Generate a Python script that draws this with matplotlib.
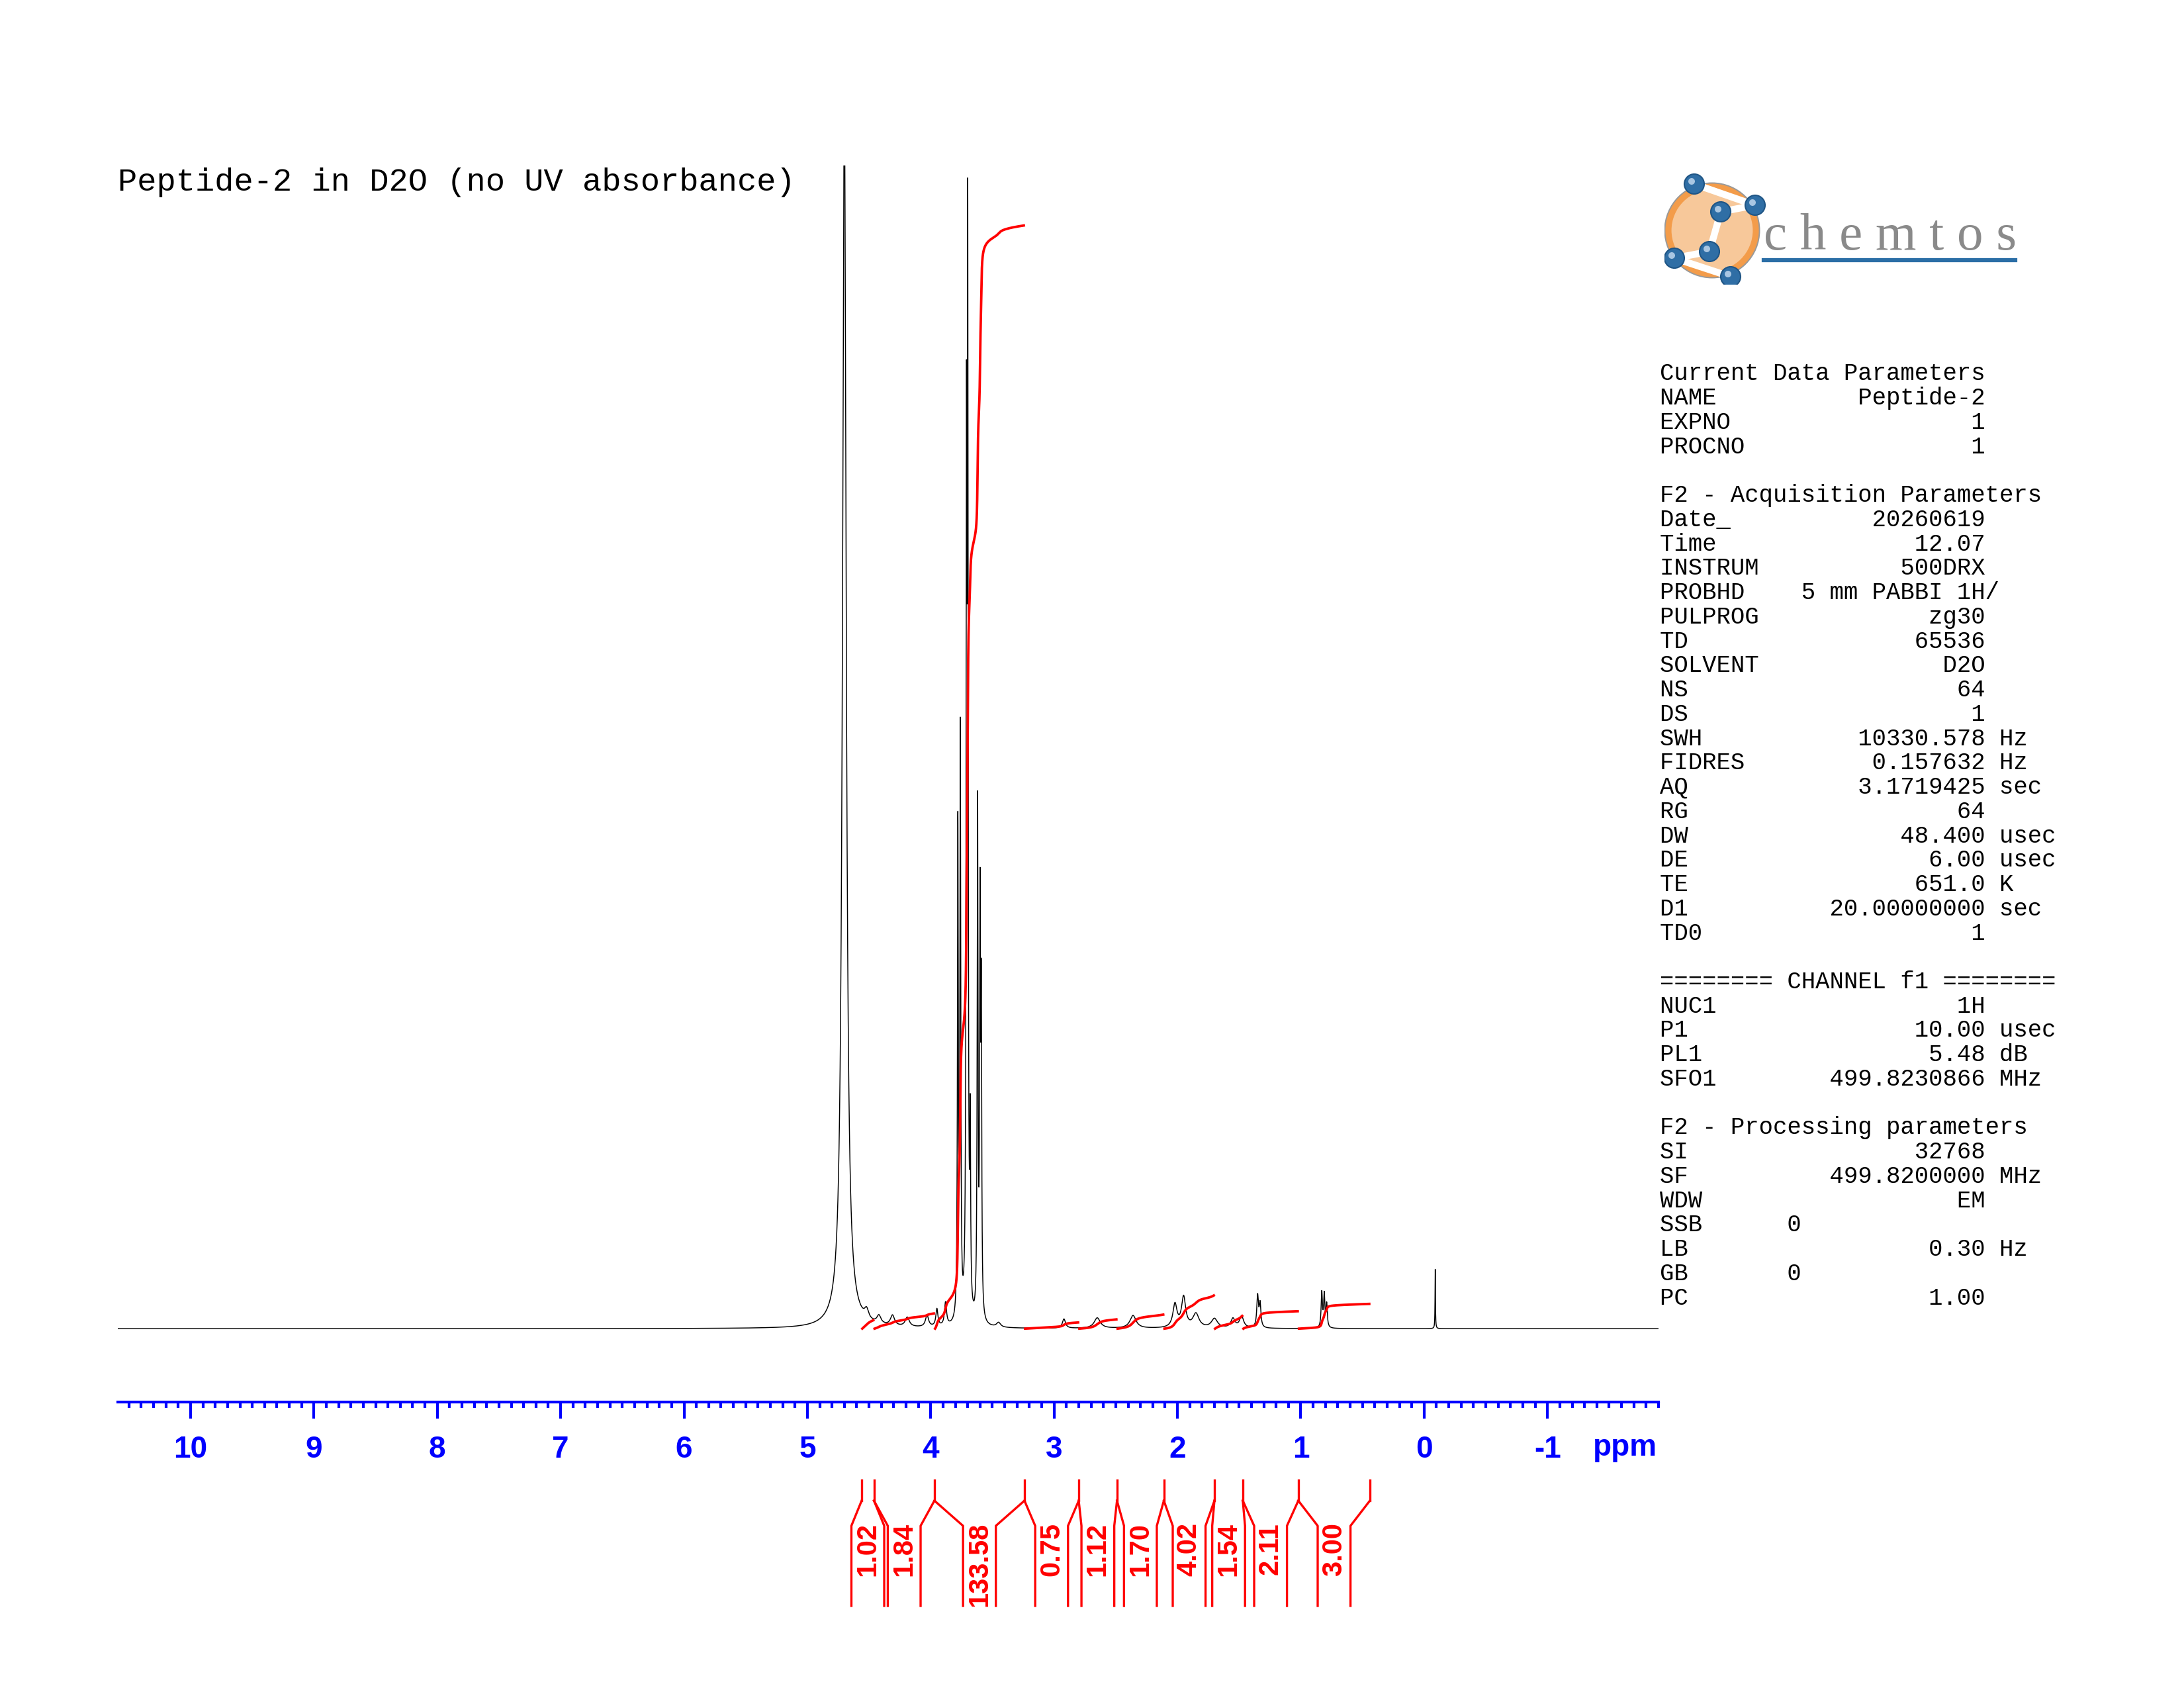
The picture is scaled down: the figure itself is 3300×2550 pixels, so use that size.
import numpy as np
import matplotlib
matplotlib.use("Agg")
import matplotlib.pyplot as plt
from matplotlib.transforms import blended_transform_factory
from matplotlib.patches import Circle

# ---- data ----
title = "Peptide-2 in D2O (no UV absorbance)"

peak_ppm = [4.70, 3.78, 3.76, 3.71, 3.70, 3.68, 3.62, 3.60, 3.59,
            4.52, 4.42, 4.31, 4.19, 4.03, 3.95, 3.88, 3.45,
            2.92, 2.65, 2.36, 2.02, 1.95, 1.85, 1.70, 1.55, 1.48,
            1.35, 1.33, 0.83, 0.81, 0.79, -0.09]
peak_height = [105, 42, 50, 70, 88, 15, 44, 34, 26,
               0.8, 0.7, 0.9, 0.8, 1.0, 1.5, 2.0, 0.4,
               0.8, 0.9, 1.1, 2.0, 2.6, 1.2, 0.8, 0.8, 1.0,
               2.7, 2.0, 3.0, 2.8, 2.0, 5.1]
peak_width = [0.018, 0.004, 0.004, 0.004, 0.004, 0.004, 0.004, 0.004, 0.004,
              0.02, 0.02, 0.02, 0.02, 0.015, 0.01, 0.01, 0.02,
              0.015, 0.03, 0.03, 0.02, 0.02, 0.03, 0.03, 0.02, 0.02,
              0.008, 0.008, 0.006, 0.006, 0.006, 0.002]

# integral region boundaries (ppm) and values
int_bounds = [4.56, 4.46, 3.97, 3.24, 2.80, 2.49, 2.11, 1.70, 1.47, 1.02, 0.44]
int_values = [1.02, 1.84, 133.58, 0.75, 1.12, 1.70, 4.02, 1.54, 2.11, 3.00]

params = [
    ("Current Data Parameters", "", ""),
    ("NAME", "Peptide-2", ""),
    ("EXPNO", "1", ""),
    ("PROCNO", "1", ""),
    None,
    ("F2 - Acquisition Parameters", "", ""),
    ("Date_", "20260619", ""),
    ("Time", "12.07", ""),
    ("INSTRUM", "500DRX", ""),
    ("PROBHD", "5 mm PABBI 1H/", ""),
    ("PULPROG", "zg30", ""),
    ("TD", "65536", ""),
    ("SOLVENT", "D2O", ""),
    ("NS", "64", ""),
    ("DS", "1", ""),
    ("SWH", "10330.578", "Hz"),
    ("FIDRES", "0.157632", "Hz"),
    ("AQ", "3.1719425", "sec"),
    ("RG", "64", ""),
    ("DW", "48.400", "usec"),
    ("DE", "6.00", "usec"),
    ("TE", "651.0", "K"),
    ("D1", "20.00000000", "sec"),
    ("TD0", "1", ""),
    None,
    ("======== CHANNEL f1 ========", "", ""),
    ("NUC1", "1H", ""),
    ("P1", "10.00", "usec"),
    ("PL1", "5.48", "dB"),
    ("SFO1", "499.8230866", "MHz"),
    None,
    ("F2 - Processing parameters", "", ""),
    ("SI", "32768", ""),
    ("SF", "499.8200000", "MHz"),
    ("WDW", "EM", ""),
    ("SSB      0", "", ""),
    ("LB", "0.30", "Hz"),
    ("GB       0", "", ""),
    ("PC", "1.00", ""),
]

# ---- spectrum ----
ppm = np.linspace(10.6, -1.9, 40000)
spec = np.zeros_like(ppm)
for c, h, w in zip(peak_ppm, peak_height, peak_width):
    spec += h * w**2 / ((ppm - c)**2 + w**2)

fig = plt.figure(figsize=(11, 8.5), dpi=300)
W, H = 3300, 2550
ax = fig.add_axes([178 / W, 1 - 2030 / H, 2328 / W, 1780 / H])
ax.plot(ppm, spec, color="black", lw=0.35)
ax.set_xlim(10.59, -1.9)
ax.set_ylim(-1.3, 100)

# integral curves
scale = 0.71
for i, val in enumerate(int_values):
    a, b = int_bounds[i] - 0.005, int_bounds[i + 1] + 0.005
    m = (ppm <= a) & (ppm >= b)
    seg = spec[m] + 0.02
    cum = np.cumsum(seg)
    cum = cum / cum[-1] * val * scale
    ax.plot(ppm[m], cum, color="red", lw=0.9)

for s in ["top", "left", "right"]:
    ax.spines[s].set_visible(False)
ax.spines["bottom"].set_position(("outward", 21))
ax.spines["bottom"].set_color("blue")
ax.spines["bottom"].set_linewidth(1.0)
ax.set_yticks([])
ax.set_xticks(np.arange(-1, 11, 1))
ax.set_xticks(np.arange(-1.9, 10.6, 0.1), minor=True)
ax.set_xticklabels([str(v) for v in range(-1, 11)])
ax.tick_params(axis="x", which="major", direction="out", length=6, width=1,
               color="blue", labelcolor="blue", pad=6)
ax.tick_params(axis="x", which="minor", direction="out", length=2.2, width=1,
               color="blue")
for t in ax.get_xticklabels():
    t.set_fontweight("bold")
    t.set_fontsize(11)
    t.set_family("Liberation Sans")
tr = blended_transform_factory(ax.transData, fig.transFigure)
ax.text(-1.63, 1 - 2187 / H, "ppm", color="blue", fontweight="bold", fontsize=11,
        family="Liberation Sans", ha="center", va="center", transform=tr)

# integral labels below the axis
y0, y1, y2, y3 = 1 - 2236 / H, 1 - 2267 / H, 1 - 2305 / H, 1 - 2426 / H
hw = 0.133
for b in int_bounds:
    ax.plot([b, b], [y0, y1], color="red", lw=0.8, transform=tr, clip_on=False)
for i, val in enumerate(int_values):
    a, b = int_bounds[i], int_bounds[i + 1]
    c = (a + b) / 2
    ax.plot([a, c + hw, c + hw], [y1, y2, y3], color="red", lw=0.8,
            transform=tr, clip_on=False)
    ax.plot([b, c - hw, c - hw], [y1, y2, y3], color="red", lw=0.8,
            transform=tr, clip_on=False)
    ax.text(c, 1 - 2300 / H, f"{val:.2f}", rotation=90, color="red",
            fontweight="bold", fontsize=10, family="Liberation Sans",
            ha="center", va="top", transform=tr)

# title
fig.text(178 / W, 1 - 275 / H, title, family="Liberation Mono", fontsize=11.7,
         ha="left", va="center")

# parameter block
for i, p in enumerate(params):
    if p is None:
        continue
    name, val, unit = p
    if val:
        line = f"{name:<10}{val:>13}" + (f" {unit}" if unit else "")
    else:
        line = name
    fig.text(2508 / W, 1 - (565 + i * 36.74) / H, line, family="Liberation Mono",
             fontsize=8.55, ha="left", va="center")

# logo
lax = fig.add_axes([2515 / W, 1 - 430 / H, 535 / W, 171 / H])
lax.set_xlim(0, 535)
lax.set_ylim(0, 171)
lax.set_aspect("equal")
lax.axis("off")
lax.add_patch(Circle((72, 82), 70, fc="#f7c89a", ec="#999999", lw=1.2))
lax.add_patch(Circle((72, 82), 66, fc="none", ec="#f39c4a", lw=2.2))
balls = [(45, 152), (137, 120), (85, 110), (68, 50), (15, 40), (100, 12)]
for (bx, by), (cx, cy) in zip(balls[:-1], balls[1:]):
    lax.plot([bx, cx], [by, cy], color="white", lw=2.5, zorder=2)
for bx, by in balls:
    lax.add_patch(Circle((bx, by), 15, fc="#2f6ea5", ec="#1f5585", lw=0.5, zorder=3))
    lax.add_patch(Circle((bx - 4, by + 4), 5, fc="#a9c6e2", ec="none", zorder=4))
lax.text(150, 72, "c h e m t o s", family="Liberation Serif", fontsize=19,
         color="#8a8a8a", ha="left", va="center")
lax.plot([150, 530], [37, 37], color="#2b6ea6", lw=1.5)

fig.savefig("out.png", dpi=300)
